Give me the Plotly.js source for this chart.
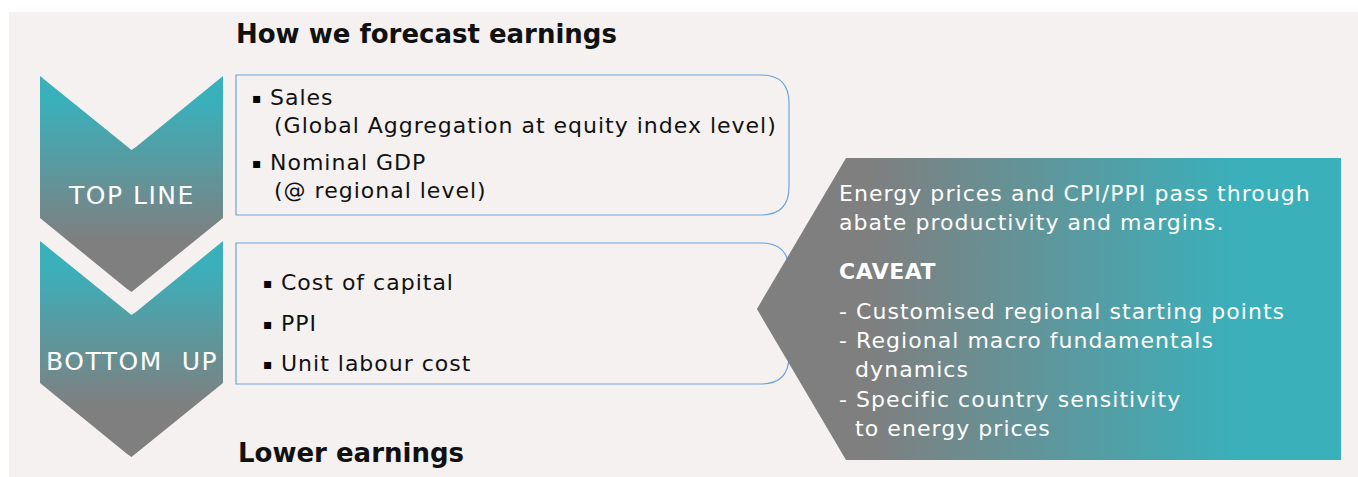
<!DOCTYPE html>
<html>
<head>
<meta charset="utf-8">
<script src="https://cdn.plot.ly/plotly-3.0.1.min.js"></script>
<style>html,body{margin:0;padding:0;background:#fff;}#chart{width:1358px;height:477px;}</style>
</head>
<body>
<div id="chart"></div>
<script>
// ---- content ----
const titleTop = 'How we forecast earnings';
const titleBottom = 'Lower earnings';
const chevronLabels = ['TOP LINE', 'BOTTOM\u00a0\u00a0UP'];
const topLineItems = ['Sales', 'Nominal GDP'];
const topLineNotes = ['(Global Aggregation at equity index level)', '(@ regional level)'];
const bottomUpItems = ['Cost of capital', 'PPI', 'Unit labour cost'];
const caveatIntro = ['Energy prices and CPI/PPI pass through', 'abate productivity and margins.'];
const caveatTitle = 'CAVEAT';
const caveatLines = ['- Customised regional starting points', '- Regional macro fundamentals', '\u00a0\u00a0dynamics', '- Specific country sensitivity', '\u00a0\u00a0to energy prices'];

// ---- style ----
const FONT = '"DejaVu Sans", sans-serif';
const TEAL = '#3ab0bb';
const GREY = '#7f7f7f';
const BG = '#f4f1f0';
const BORDER = '#6fa4d9';

// ---- layout geometry ----
const W = 1358, H = 477;
const chevrons = [
  {top: 76, label: chevronLabels[0], labelY: 195},
  {top: 241, label: chevronLabels[1], labelY: 361}
];
const CHEV_L = 40, CHEV_R = 223, CHEV_NOTCH = 74, CHEV_SIDE = 142;

function chevronTrace(top) {
  const cx = (CHEV_L + CHEV_R) / 2;
  const xs = [CHEV_L, cx - 5, cx, cx + 5, CHEV_R, CHEV_R, cx + 5, cx, cx - 5, CHEV_L, CHEV_L];
  const sb = top + CHEV_SIDE, tip = sb + CHEV_NOTCH;
  const ys = [top, top + CHEV_NOTCH - 3.5, top + CHEV_NOTCH, top + CHEV_NOTCH - 3.5, top, sb, tip - 3.5, tip, tip - 3.5, sb, top];
  return {
    type: 'scatter', x: xs, y: ys, mode: 'lines', line: {width: 0}, fill: 'toself',
    fillgradient: {type: 'vertical', colorscale: [[0, TEAL], [0.15, TEAL], [1, GREY]], start: top, stop: top + 165},
    hoverinfo: 'skip', showlegend: false
  };
}

const pent = {L: 757, X: 846, R: 1341, T: 158, B: 460};
const pentMid = (pent.T + pent.B) / 2;
const pentTrace = {
  type: 'scatter',
  x: [pent.X, pent.R, pent.R, pent.X, pent.L + 4, pent.L, pent.L + 4, pent.X],
  y: [pent.T, pent.T, pent.B, pent.B, pentMid + 7, pentMid, pentMid - 7, pent.T],
  mode: 'lines', line: {width: 0}, fill: 'toself',
  fillgradient: {type: 'horizontal', colorscale: [[0, GREY], [0.08, GREY], [1, TEAL]], start: 840, stop: 1240},
  hoverinfo: 'skip', showlegend: false
};

function boxPath(x0, y0, x1, y1, r) {
  return `M ${x0} ${y0} L ${x1 - r} ${y0} Q ${x1} ${y0} ${x1} ${y0 + r} L ${x1} ${y1 - r} Q ${x1} ${y1} ${x1 - r} ${y1} L ${x0} ${y1} Z`;
}

const shapes = [
  {type: 'rect', xref: 'x', yref: 'y', x0: 9, x1: W, y0: 12, y1: H, fillcolor: BG, line: {width: 0}, layer: 'below'},
  {type: 'path', xref: 'x', yref: 'y', path: boxPath(236, 75, 789, 215, 28), line: {color: BORDER, width: 1.2}, fillcolor: 'rgba(0,0,0,0)', layer: 'below'},
  {type: 'path', xref: 'x', yref: 'y', path: boxPath(236, 243, 789, 384, 28), line: {color: BORDER, width: 1.2}, fillcolor: 'rgba(0,0,0,0)', layer: 'below'}
];

const annotations = [];
function txt(text, x, y, size, color, weight, anchor, spacing) {
  const t = spacing ? `<span style="letter-spacing:${spacing}px">${text}</span>` : text;
  annotations.push({text: t, x: x, y: y, xref: 'x', yref: 'y', showarrow: false,
    xanchor: anchor || 'left', yanchor: 'middle',
    font: {family: FONT, size: size, color: color, weight: weight || 'normal'}});
}

// headings
txt(titleTop, 234, 34, 26, '#111', 'bold');
txt(titleBottom, 236, 453, 26, '#111', 'bold');

// chevron labels
chevrons.forEach(c => txt(c.label, (CHEV_L + CHEV_R) / 2, c.labelY, 25, '#ffffff', 'normal', 'center', 1.5));

// top line box
const topItemY = [97, 162], topNoteY = [125, 190];
topLineItems.forEach((t, i) => {
  txt('\u25aa', 250, topItemY[i] + 1, 14, '#000');
  txt(t, 268, topItemY[i], 22, '#111', 'normal', 'left', 1);
  txt(topLineNotes[i], 272, topNoteY[i], 22, '#111', 'normal', 'left', 1);
});

// bottom up box
const buY = [282, 323, 363];
bottomUpItems.forEach((t, i) => {
  txt('\u25aa', 261, buY[i] + 1, 14, '#000');
  txt(t, 279, buY[i], 22, '#111', 'normal', 'left', 1);
});

// caveat panel
const introY = [193, 222];
caveatIntro.forEach((t, i) => txt(t, 837, introY[i], 22, '#ffffff', 'normal', 'left', 1.05));
txt(caveatTitle, 837, 271, 22, '#ffffff', 'bold', 'left', 0.5);
const cavY = [311, 340, 369, 399, 428];
caveatLines.forEach((t, i) => txt(t, 837, cavY[i], 22, '#ffffff', 'normal', 'left', 1.05));

const traces = [chevronTrace(chevrons[0].top), chevronTrace(chevrons[1].top), pentTrace];

const layout = {
  width: W, height: H,
  margin: {l: 0, r: 0, t: 0, b: 0, pad: 0},
  paper_bgcolor: '#ffffff', plot_bgcolor: 'rgba(0,0,0,0)',
  xaxis: {range: [0, W], visible: false, fixedrange: true},
  yaxis: {range: [H, 0], visible: false, fixedrange: true},
  shapes: shapes, annotations: annotations, showlegend: false,
  hovermode: false
};

Plotly.newPlot('chart', traces, layout, {staticPlot: true, displayModeBar: false});
</script>
</body>
</html>
